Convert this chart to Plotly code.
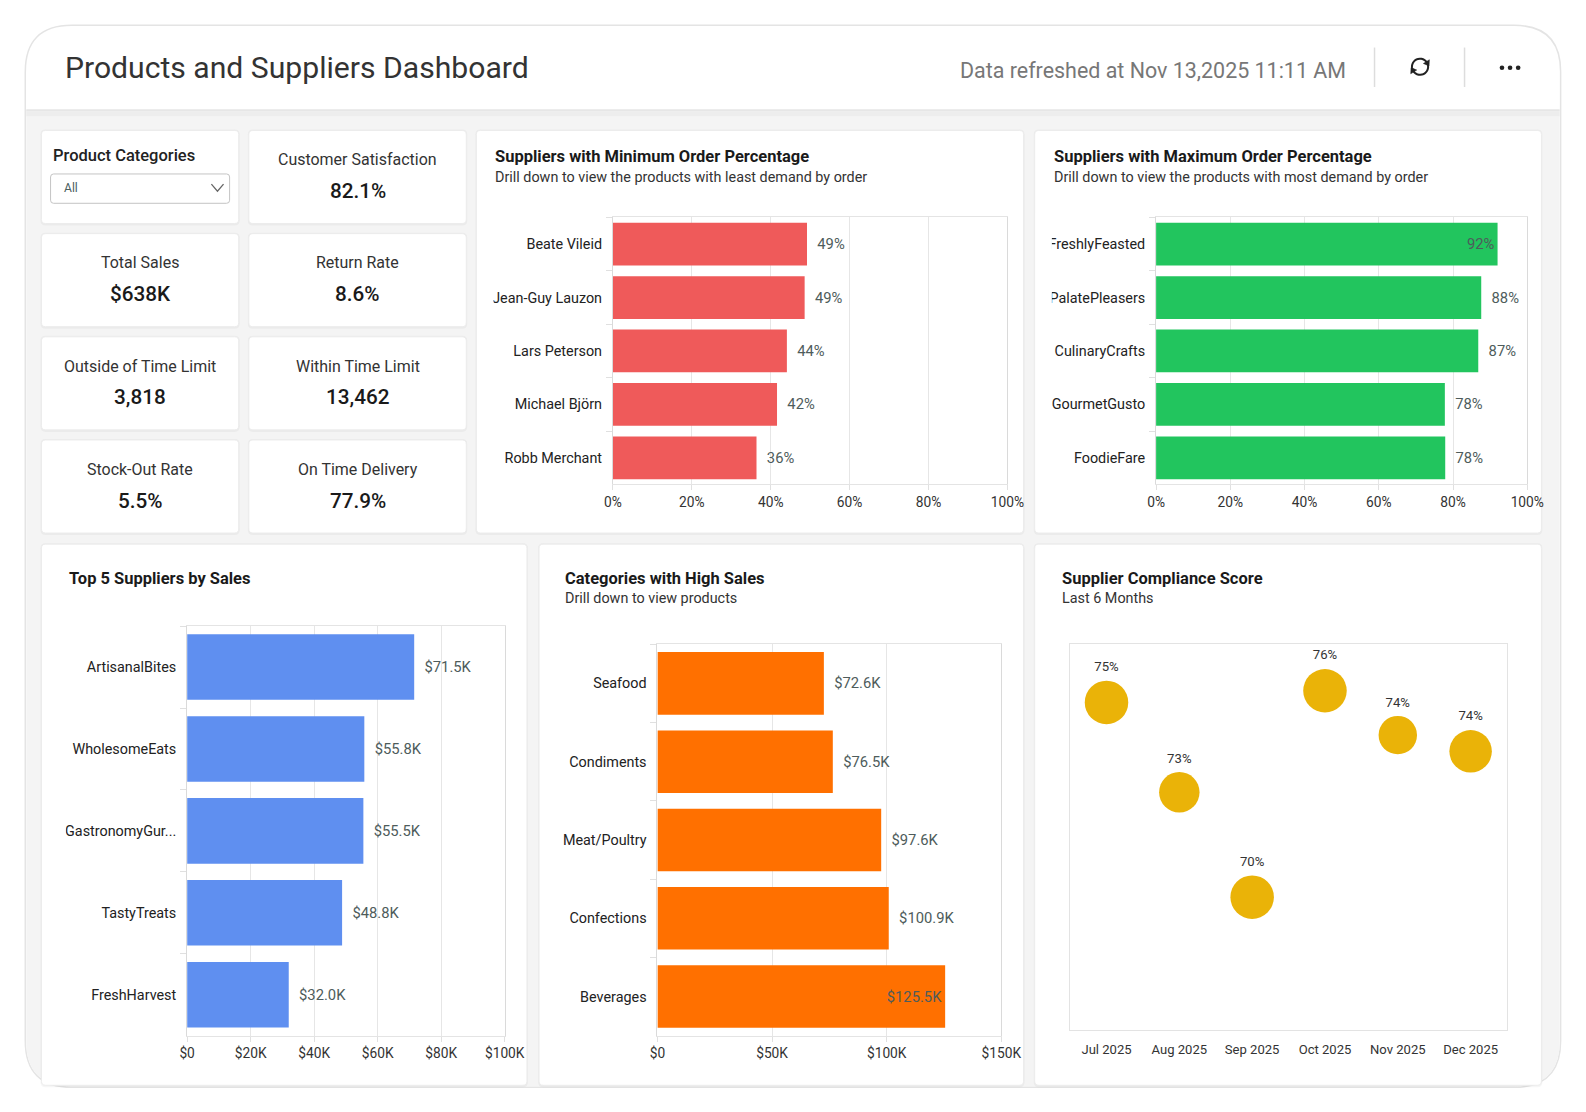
import math
import plotly.graph_objects as go

# the photo of the page comes out ~1.1% smaller than the page itself, so layout positions
# (given in photo pixels) are scaled up by S; the body keeps its 8px default margin
S = 1 / 0.9887
OFF = 8
W, H = 1560, 1084
FONT = 'Roboto'

# ---- data ----
kpi_labels = ['Customer Satisfaction', 'Total Sales', 'Return Rate', 'Outside of Time Limit',
              'Within Time Limit', 'Stock-Out Rate', 'On Time Delivery']
kpi_values = ['82.1%', '$638K', '8.6%', '3,818', '13,462', '5.5%', '77.9%']

min_suppliers = ['Beate Vileid', 'Jean-Guy Lauzon', 'Lars Peterson', 'Michael Björn', 'Robb Merchant']
min_order_pct = [49.2, 48.6, 44.1, 41.6, 36.4]

max_suppliers = ['FreshlyFeasted', 'PalatePleasers', 'CulinaryCrafts', 'GourmetGusto', 'FoodieFare']
max_order_pct = [92.0, 87.6, 86.8, 77.8, 77.9]

top_suppliers = ['ArtisanalBites', 'WholesomeEats', 'GastronomyGur...', 'TastyTreats', 'FreshHarvest']
top_sales = [71500, 55800, 55500, 48800, 32000]

categories = ['Seafood', 'Condiments', 'Meat/Poultry', 'Confections', 'Beverages']
category_sales = [72600, 76500, 97600, 100900, 125500]

months = ['Jul 2025', 'Aug 2025', 'Sep 2025', 'Oct 2025', 'Nov 2025', 'Dec 2025']
compliance = [75.26, 72.65, 69.6, 75.6, 74.31, 73.84]
compliance_volume = [43, 40, 43, 43, 38, 42]

pct_ticks = [0, 20, 40, 60, 80, 100]
pct_ticktext = ['0%', '20%', '40%', '60%', '80%', '100%']
top_ticks = [0, 20000, 40000, 60000, 80000, 100000]
top_ticktext = ['$0', '$20K', '$40K', '$60K', '$80K', '$100K']
cat_ticks = [0, 50000, 100000, 150000]
cat_ticktext = ['$0', '$50K', '$100K', '$150K']


def fs(v):
    return round(v * S, 2)


def px(x):
    return (x * S - OFF) / W


def py(y):
    return 1 - (y * S - OFF) / H


def pt(x, y):
    return f'{px(x):.5f},{py(y):.5f}'


def rrect(x0, y0, x1, y1, r):
    return (f'M {pt(x0 + r, y0)} L {pt(x1 - r, y0)} Q {pt(x1, y0)} {pt(x1, y0 + r)} '
            f'L {pt(x1, y1 - r)} Q {pt(x1, y1)} {pt(x1 - r, y1)} '
            f'L {pt(x0 + r, y1)} Q {pt(x0, y1)} {pt(x0, y1 - r)} '
            f'L {pt(x0, y0 + r)} Q {pt(x0, y0)} {pt(x0 + r, y0)} Z')


shapes = []
annotations = []


def add_path(path, fill='rgba(0,0,0,0)', line='rgba(0,0,0,0)', width=0, layer='below'):
    shapes.append(dict(type='path', xref='paper', yref='paper', path=path, fillcolor=fill,
                       line=dict(color=line, width=width), layer=layer))


def add_rect(x0, y0, x1, y1, fill, layer='below'):
    shapes.append(dict(type='rect', xref='paper', yref='paper', x0=px(x0), x1=px(x1),
                       y0=py(y1), y1=py(y0), fillcolor=fill, line=dict(width=0), layer=layer))


def note(x, y, text, size, color='#222', weight=400, anchor='left', family=FONT):
    annotations.append(dict(xref='paper', yref='paper', x=px(x), y=py(y), text=text, showarrow=False,
                            xanchor=anchor, yanchor='middle',
                            font=dict(family=family, size=fs(size), color=color, weight=weight)))


def card(x0, y0, x1, y1):
    add_path(rrect(x0 - 1, y0 - 1, x1 + 1, y1 + 2, 5), fill='rgba(0,0,0,0.035)')
    add_path(rrect(x0, y0, x1, y1, 4), fill='white', line='#ECECEC', width=1)


# ---- page frame ----
add_path(rrect(25, 25, 1543, 1075, 46), fill='white', line='#E4E4E4', width=1.5)
add_path(f'M {pt(26, 109)} L {pt(1542, 109)} L {pt(1542, 1030)} Q {pt(1542, 1074)} {pt(1498, 1074)} '
         f'L {pt(70, 1074)} Q {pt(26, 1074)} {pt(26, 1030)} Z', fill='#F4F4F4')
add_rect(26, 108, 1542, 110, '#E6E6E6')
add_rect(26, 110, 1542, 115, '#EDEDED')

# header
note(62, 67, 'Products and Suppliers Dashboard', 29.8, '#333333', 400)
note(1333, 70, 'Data refreshed at Nov 13,2025 11:11 AM', 21.2, '#777777', anchor='right')
for sx in (1359, 1448):
    shapes.append(dict(type='line', xref='paper', yref='paper', x0=px(sx), x1=px(sx),
                       y0=py(86), y1=py(47), line=dict(color='#DDDDDD', width=1.5), layer='below'))
for dx in (1485, 1493, 1501):
    shapes.append(dict(type='circle', xref='paper', yref='paper', x0=px(dx - 2.3), x1=px(dx + 2.3),
                       y0=py(67 + 2.3), y1=py(67 - 2.3), fillcolor='#222', line=dict(width=0),
                       layer='below'))

# refresh icon: two arcs with arrowheads
cx, cy, r = 1404, 66, 8
for a0, a1 in ((200, 32), (20, -148)):
    angs = [a0 + (a1 - a0) * i / 14 for i in range(15)]
    pts = [(cx + r * math.cos(math.radians(a)), cy - r * math.sin(math.radians(a))) for a in angs]
    add_path('M ' + ' L '.join(pt(x, y) for x, y in pts), line='#222', width=2)
    ex, ey = pts[-1]
    dxv, dyv = math.sin(math.radians(a1)), math.cos(math.radians(a1))
    tip = (ex + dxv * 4, ey + dyv * 4)
    bc = (ex - dxv * 1, ey - dyv * 1)
    b1 = (bc[0] - dyv * 3.5, bc[1] + dxv * 3.5)
    b2 = (bc[0] + dyv * 3.5, bc[1] - dxv * 3.5)
    add_path(f'M {pt(*tip)} L {pt(*b1)} L {pt(*b2)} Z', fill='#222', line='#222', width=0.5)

# ---- KPI cards ----
cols = [(41, 236), (246, 461)]
rows = [129, 231, 333, 435]
card(41, 129, 236, 221)
note(50, 154, 'Product Categories', 16.3, '#222', 500)
add_path(rrect(50, 172, 227, 201, 3), fill='white', line='#C4C4C4', width=1)
note(61, 186, 'All', 12, '#4A6060')
add_path(f'M {pt(209, 182)} L {pt(215, 189)} L {pt(221, 182)}', line='#666666', width=1.3)

slots = [(0, 1), (1, 0), (1, 1), (2, 0), (2, 1), (3, 0), (3, 1)]
for (ri, ci), lab, val in zip(slots, kpi_labels, kpi_values):
    x0, x1 = cols[ci]
    top = rows[ri]
    card(x0, top, x1, top + 92)
    note((x0 + x1) / 2, top + 29, lab, 15.8, '#333333', anchor='center')
    note((x0 + x1) / 2, top + 60, val, 20.5, '#1a1a1a', 500, anchor='center')

# ---- chart cards ----
card(471, 129, 1012, 527)
card(1023, 129, 1524, 527)
card(41, 538, 521, 1073)
card(533, 538, 1012, 1073)
card(1023, 538, 1524, 1073)

TITLE, SUB = 16.3, 14.2
note(487, 155, 'Suppliers with Minimum Order Percentage', TITLE, '#1a1a1a', 700)
note(487, 175, 'Drill down to view the products with least demand by order', SUB, '#333333')
note(1040, 155, 'Suppliers with Maximum Order Percentage', TITLE, '#1a1a1a', 700)
note(1040, 175, 'Drill down to view the products with most demand by order', SUB, '#333333')
note(66, 572, 'Top 5 Suppliers by Sales', TITLE, '#1a1a1a', 700)
note(557, 572, 'Categories with High Sales', TITLE, '#1a1a1a', 700)
note(557, 592, 'Drill down to view products', SUB, '#333333')
note(1048, 572, 'Supplier Compliance Score', TITLE, '#1a1a1a', 700)
note(1048, 592, 'Last 6 Months', SUB, '#333333')

# masks that clip long category labels at the card padding
add_rect(472, 210, 488, 485, 'white', layer='above')
add_rect(1024, 210, 1040, 485, 'white', layer='above')
add_rect(42, 610, 65, 1030, 'white', layer='above')
add_rect(534, 625, 556, 1030, 'white', layer='above')

fig = go.Figure()
LABEL_COLOR = '#4E5C5B'


def bar_trace(values, names, color, labels, xmax, width_px, n):
    pos = []
    txt = []
    for v, lab in zip(values, labels):
        room = (xmax - v) / xmax * width_px
        if room < len(lab) * 7.5 + 10:
            pos.append('inside')
            txt.append(lab)
        else:
            pos.append('outside')
            txt.append('  ' + lab)
    return go.Bar(x=values, y=names, orientation='h', marker=dict(color=color, line=dict(width=0)),
                  text=txt, textposition=pos, insidetextanchor='end', cliponaxis=False,
                  textfont=dict(family=FONT, size=fs(14.6), color=LABEL_COLOR),
                  xaxis=f'x{n}' if n > 1 else 'x', yaxis=f'y{n}' if n > 1 else 'y',
                  showlegend=False, hoverinfo='x+y')


fig.add_trace(bar_trace(min_order_pct, min_suppliers, '#EF5A5A',
                        [f'{v:.0f}%' for v in min_order_pct], 100, 390, 1))
fig.add_trace(bar_trace(max_order_pct, max_suppliers, '#22C55E',
                        [f'{v:.0f}%' for v in max_order_pct], 100, 367, 2))
fig.add_trace(bar_trace(top_sales, top_suppliers, '#5F8FF0',
                        [f'${v / 1000:.1f}K' for v in top_sales], 100000, 314, 3))
fig.add_trace(bar_trace(category_sales, categories, '#FF7000',
                        [f'${v / 1000:.1f}K' for v in category_sales], 150000, 340, 4))

fig.add_trace(go.Scatter(x=months, y=compliance, mode='markers+text',
                         marker=dict(size=[fs(v) for v in compliance_volume], sizemode='diameter',
                                     color='#EAB308', opacity=1, line=dict(width=0)),
                         text=[f'{v:.0f}%' for v in compliance], textposition='top center',
                         textfont=dict(family=FONT, size=fs(13), color='#333333'),
                         xaxis='x5', yaxis='y5', showlegend=False, cliponaxis=False))

layout_axes = {}
bar_boxes = [
    (1, (606, 996, 215, 479), 100, pct_ticks, pct_ticktext),
    (2, (1143, 1510, 215, 479), 100, pct_ticks, pct_ticktext),
    (3, (185, 499, 619, 1024), 100000, top_ticks, top_ticktext),
    (4, (650, 990, 637, 1024), 150000, cat_ticks, cat_ticktext),
]
for n, (x0, x1, y0, y1), xmax, tv, tt in bar_boxes:
    sx = '' if n == 1 else str(n)
    layout_axes[f'xaxis{sx}'] = dict(
        domain=[px(x0), px(x1)], anchor=f'y{sx}', range=[0, xmax], tickvals=tv, ticktext=tt,
        showgrid=True, gridcolor='#E6E6E6', gridwidth=1, zeroline=False, automargin=False,
        showline=True, linecolor='#E4E4E4', mirror=True, ticks='outside', ticklen=5,
        tickcolor='#E0E0E0', tickfont=dict(family=FONT, size=fs(13.6), color='#333333'),
        fixedrange=True)
    layout_axes[f'yaxis{sx}'] = dict(
        domain=[py(y1), py(y0)], anchor=f'x{sx}', autorange='reversed', type='category',
        showgrid=False, zeroline=False, showline=True, linecolor='#DADADA', mirror=True,
        ticks='outside', tickson='boundaries', ticklen=6, tickcolor='#E0E0E0', automargin=False,
        ticklabelstandoff=7, tickfont=dict(family=FONT, size=fs(14.2), color='#222222'),
        fixedrange=True)

layout_axes['xaxis5'] = dict(
    domain=[px(1058), px(1490)], anchor='y5', type='category', range=[-0.5, 5.5],
    showgrid=False, zeroline=False, showline=True, linecolor='#E3E3E3', mirror=True,
    ticks='', ticklabelstandoff=8, tickfont=dict(family=FONT, size=fs(12.9), color='#333333'),
    fixedrange=True, automargin=False)
layout_axes['yaxis5'] = dict(
    domain=[py(1018), py(637)], anchor='x5', range=[65.75, 76.95], showgrid=False, zeroline=False,
    showline=True, linecolor='#E3E3E3', mirror=True, showticklabels=False, ticks='',
    fixedrange=True, automargin=False)

fig.update_layout(
    width=W, height=H, autosize=False, margin=dict(l=0, r=0, t=0, b=0, pad=0, autoexpand=False),
    paper_bgcolor='white', plot_bgcolor='rgba(0,0,0,0)',
    font=dict(family=FONT, color='#222222'),
    bargap=0.2, shapes=shapes, annotations=annotations, showlegend=False,
    **layout_axes,
)

fig.write_html('out.html', config={'displayModeBar': False, 'responsive': False})
